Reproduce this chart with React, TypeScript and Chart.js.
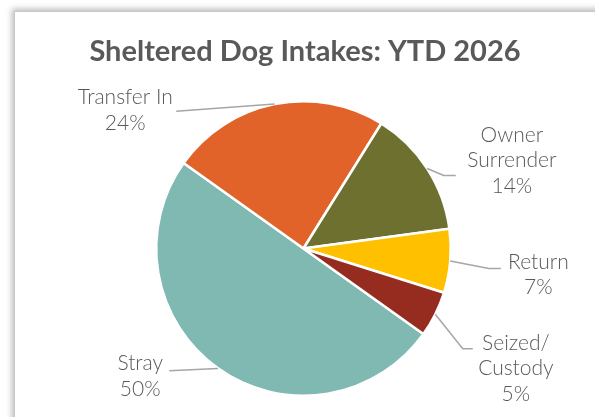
import React, { useEffect, useRef } from "react";
import { Chart, registerables } from "chart.js";

Chart.register(...registerables);

const categories = ["Stray", "Transfer In", "Owner Surrender", "Return", "Seized/Custody"];
const labelLines = [["Stray"], ["Transfer In"], ["Owner", "Surrender"], ["Return"], ["Seized/", "Custody"]];
const values = [50, 24, 14, 7, 5];
const colors = ["#7FB9B1", "#E2632A", "#6D702F", "#FFC000", "#962C20"];
const titleText = "Sheltered Dog Intakes: YTD 2026";

// label layout, offsets relative to the pie centre in units of radius/147
const labelText = [
  [-163, 127.5],
  [-178, -138],
  [208, -88],
  [234.5, 26],
  [212, 120],
];
const labelElbow = [
  null,
  null,
  [140, -73],
  [185, 20],
  [159, 100],
];
const labelEnd = [
  [-134, 122],
  [-127, -137],
  [152, -73],
  [197, 20],
  [169, 100],
];

const labelPlugin = {
  id: "pieLabels",
  afterDraw(chart: any) {
    const ctx = chart.ctx;
    const meta = chart.getDatasetMeta(0);
    const total = values.reduce((a, b) => a + b, 0);
    ctx.save();
    // title
    ctx.fillStyle = "#595959";
    ctx.font = "bold 29px Lato";
    ctx.textAlign = "center";
    ctx.textBaseline = "middle";
    ctx.fillText(titleText, 305, 52);

    meta.data.forEach((arc: any, i: number) => {
      const { x, y, startAngle, endAngle, outerRadius } = arc.getProps(
        ["x", "y", "startAngle", "endAngle", "outerRadius"],
        true
      );
      const k = outerRadius / 147;
      const mid = (startAngle + endAngle) / 2;
      const ax = x + Math.cos(mid) * outerRadius;
      const ay = y + Math.sin(mid) * outerRadius;
      ctx.strokeStyle = "#A6A6A6";
      ctx.lineWidth = 1.5;
      ctx.beginPath();
      ctx.moveTo(ax, ay);
      const el = labelElbow[i];
      if (el) ctx.lineTo(x + el[0] * k, y + el[1] * k);
      const en = labelEnd[i];
      ctx.lineTo(x + en[0] * k, y + en[1] * k);
      ctx.stroke();

      const lines = [...labelLines[i], Math.round((values[i] / total) * 100) + "%"];
      const tx = x + labelText[i][0] * k;
      const ty = y + labelText[i][1] * k;
      const lh = 25.5;
      ctx.fillStyle = "#595959";
      ctx.font = "300 21px Lato";
      ctx.textAlign = "center";
      ctx.textBaseline = "middle";
      lines.forEach((ln, j) => {
        ctx.fillText(ln, tx, ty + (j - (lines.length - 1) / 2) * lh);
      });
    });
    ctx.restore();
  },
};

export default function App() {
  const ref = useRef<HTMLCanvasElement>(null);
  useEffect(() => {
    if (!ref.current) return;
    const chart = new Chart(ref.current, {
      type: "pie",
      data: {
        labels: categories,
        datasets: [
          {
            data: values,
            backgroundColor: colors,
            borderColor: "#FFFFFF",
            borderWidth: 2.5,
          },
        ],
      },
      options: {
        responsive: false,
        animation: false,
        rotation: 125.5,
        layout: { padding: { left: 155, right: 143, top: 100, bottom: 20 } },
        plugins: {
          legend: { display: false },
          title: { display: false },
          tooltip: { enabled: false },
        },
      },
      plugins: [labelPlugin],
    });
    return () => chart.destroy();
  }, []);
  return (
    <div
      style={{
        position: "fixed",
        left: 0,
        top: 0,
        width: 595,
        height: 417,
        background: "#FFFFFF",
        overflow: "hidden",
      }}
    >
      <div
        style={{
          position: "absolute",
          left: 14,
          top: 11,
          width: 620,
          height: 440,
          background: "#FFFFFF",
          border: "1px solid #C8C8C8",
          boxShadow: "0 0 6px 2px rgba(0,0,0,0.28)",
        }}
      />
      <canvas
        ref={ref}
        width={595}
        height={417}
        style={{ position: "absolute", left: 0, top: 0, width: 595, height: 417 }}
      />
    </div>
  );
}
